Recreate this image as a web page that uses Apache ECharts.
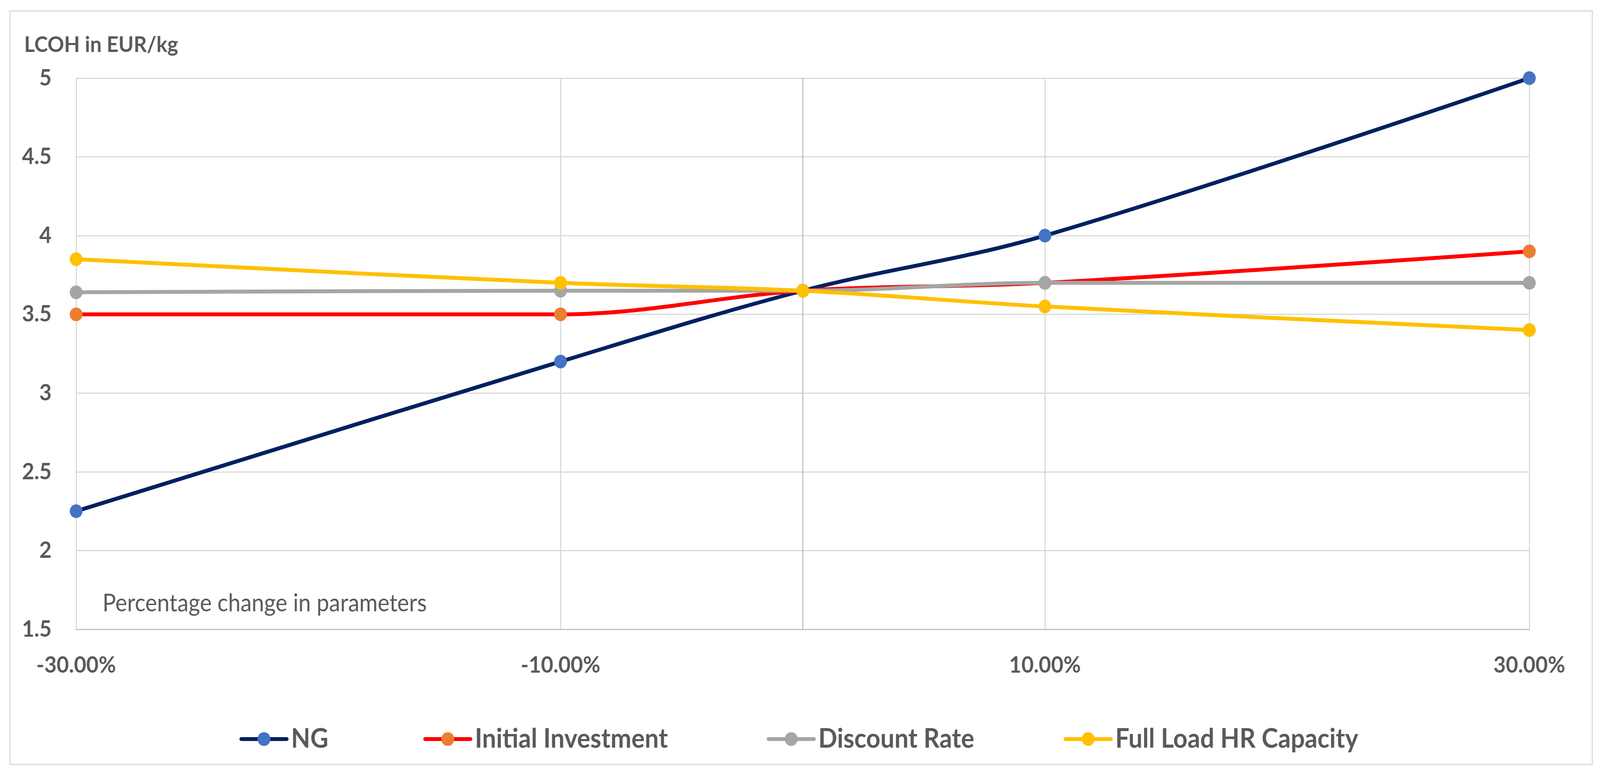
<!DOCTYPE html>
<html>
<head>
<meta charset="utf-8">
<script src="https://cdn.jsdelivr.net/npm/echarts@6/dist/echarts.min.js"></script>
<style>
html,body{margin:0;padding:0;background:#fff;overflow:hidden;width:100%;height:100%;}
#wrap{position:fixed;left:0;top:0;width:100vw;height:100vh;overflow:hidden;background:#fff;}
#chart{width:4370px;height:1984px;transform-origin:0 0;}
</style>
</head>
<body>
<div id="wrap"><div id="chart"></div></div>
<script>
// ---- data ----
var xValues = [-30, -10, 0, 10, 30];                 // percentage change
var seriesNames = ['NG', 'Initial Investment', 'Discount Rate', 'Full Load HR Capacity'];
var ngValues = [2.25, 3.20, 3.65, 4.00, 5.00];
var investmentValues = [3.50, 3.50, 3.65, 3.70, 3.90];
var discountValues = [3.64, 3.65, 3.65, 3.70, 3.70];
var fullLoadValues = [3.85, 3.70, 3.65, 3.55, 3.40];
var yAxisTitle = 'LCOH in EUR/kg';
var xAxisTitle = 'Percentage change in parameters';

var lineColors = ['#002060', '#FF0000', '#A5A5A5', '#FFC000'];
var markerColors = ['#4472C4', '#ED7D31', '#A5A5A5', '#FFC000'];
var allValues = [ngValues, investmentValues, discountValues, fullLoadValues];

function pairs(vals) {
  return xValues.map(function (x, i) { return [x, vals[i]]; });
}

// fit the 4370x1984 design to the actual viewport
var el = document.getElementById('chart');
var sx = window.innerWidth / 4370, sy = window.innerHeight / 1984;
if (!isFinite(sx) || sx <= 0) sx = 1;
if (!isFinite(sy) || sy <= 0) sy = sx;
el.style.transform = 'scale(' + sx + ',' + sy + ')';

var textColor = '#595959';
var fontFam = 'Lato, "Open Sans", sans-serif';

var series = seriesNames.map(function (name, i) {
  return {
    name: name,
    type: 'line',
    data: pairs(allValues[i]),
    smooth: 0.35,
    symbol: 'circle',
    symbolSize: 35,
    showSymbol: true,
    lineStyle: { color: lineColors[i], width: 10 },
    itemStyle: { color: markerColors[i], borderWidth: 0 },
    emphasis: { disabled: true },
    animation: false
  };
});

var legendLefts = [654, 1156, 2094, 2905];
var legends = seriesNames.map(function (name, i) {
  return {
    data: [name],
    left: legendLefts[i],
    top: 1858,
    orient: 'horizontal',
    itemWidth: 124,
    itemHeight: 44,
    padding: 0,
    selectedMode: false,
    lineStyle: { width: 10, color: lineColors[i], cap: 'round' },
    itemStyle: { color: markerColors[i], borderWidth: 0 },
    textStyle: {
      color: textColor,
      fontSize: 68,
      fontWeight: 'bold',
      fontFamily: fontFam,
      padding: [0, 0, 0, 7]
    }
  };
});

var chart = echarts.init(el, null, { renderer: 'canvas', width: 4370, height: 1984 });

chart.setOption({
  backgroundColor: '#ffffff',
  animation: false,
  grid: { left: 208, right: 193, top: 200, bottom: 373, containLabel: false },
  legend: legends,
  xAxis: {
    type: 'value',
    min: -30,
    max: 30,
    interval: 20,
    axisLine: { show: true, onZero: false, lineStyle: { color: '#BFBFBF', width: 3 } },
    axisTick: { show: false },
    splitLine: { show: true, lineStyle: { color: '#D9D9D9', width: 3 } },
    axisLabel: {
      margin: 63,
      color: textColor,
      fontSize: 58,
      fontWeight: 'bold',
      fontFamily: fontFam,
      formatter: function (v) { return v.toFixed(2) + '%'; }
    }
  },
  yAxis: {
    type: 'value',
    min: 1.5,
    max: 5,
    interval: 0.5,
    axisLine: { show: true, onZero: true, lineStyle: { color: '#BFBFBF', width: 3 } },
    axisTick: { show: false },
    splitLine: { show: true, lineStyle: { color: '#D9D9D9', width: 3 } },
    axisLabel: {
      margin: 67,
      color: textColor,
      fontSize: 58,
      fontWeight: 'bold',
      fontFamily: fontFam
    }
  },
  graphic: [
    {
      type: 'rect',
      shape: { x: 27, y: 28, width: 4322, height: 1929 },
      style: { fill: 'none', stroke: '#D9D9D9', lineWidth: 3 },
      silent: true, z: -1
    },
    {
      type: 'text',
      x: 66, y: 115,
      style: {
        text: yAxisTitle, fill: textColor, fontSize: 56, fontWeight: 'bold',
        fontFamily: fontFam, verticalAlign: 'middle', align: 'left'
      },
      silent: true
    },
    {
      type: 'text',
      x: 280, y: 1545,
      style: {
        text: xAxisTitle, fill: textColor, fontSize: 61, fontWeight: 'normal',
        fontFamily: fontFam, verticalAlign: 'middle', align: 'left'
      },
      silent: true
    }
  ],
  series: series
});
</script>
</body>
</html>
